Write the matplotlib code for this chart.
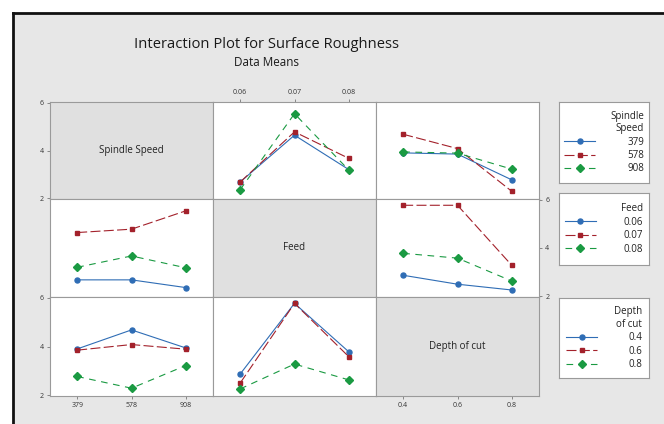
import matplotlib
matplotlib.use('Agg')
import matplotlib.pyplot as plt
from matplotlib.lines import Line2D
from matplotlib.patches import Rectangle

W, H = 664, 424

factors = ['Spindle Speed', 'Feed', 'Depth of cut']
legend_titles = ['Spindle\nSpeed', 'Feed', 'Depth\nof cut']
speed_levels = ['379', '578', '908']
feed_levels = ['0.06', '0.07', '0.08']
depth_levels = ['0.4', '0.6', '0.8']
levels = [speed_levels, feed_levels, depth_levels]

# data means, rows = level of the line factor, columns = level of the x factor
speed_by_feed = [[2.68, 4.64, 3.20],
                 [2.68, 4.78, 3.67],
                 [2.36, 5.54, 3.18]]
speed_by_depth = [[3.90, 3.85, 2.77],
                  [4.68, 4.08, 2.29],
                  [3.94, 3.89, 3.22]]
feed_by_depth = [[2.87, 2.50, 2.26],
                 [5.77, 5.77, 3.28],
                 [3.78, 3.58, 2.63]]


def transpose(m):
    return [list(r) for r in zip(*m)]


means = {
    (0, 1): speed_by_feed,
    (0, 2): speed_by_depth,
    (1, 0): transpose(speed_by_feed),
    (1, 2): feed_by_depth,
    (2, 0): transpose(speed_by_depth),
    (2, 1): transpose(feed_by_depth),
}

colors = ['#2f6db5', '#a3212b', '#1a9a42']
markers = ['o', 's', 'D']
msizes = [3.6, 3.4, 3.6]
dashes = [None, (9, 3), (6, 5)]


def px_rect(x0, y0, x1, y1):
    return [x0 / W, 1 - y1 / H, (x1 - x0) / W, (y1 - y0) / H]


fig = plt.figure(figsize=(W / 100, H / 100), dpi=100, facecolor='white')
plt.rcParams['font.family'] = ['Open Sans', 'DejaVu Sans']

# grey background with dark left/top edge
fig.add_artist(Rectangle((13 / W, 0), 1, 1 - 13 / H, transform=fig.transFigure,
                         facecolor='#e7e7e7', edgecolor='none', zorder=-10))
fig.add_artist(Line2D([13 / W, 13 / W], [0, 1 - 13 / H], transform=fig.transFigure,
                      color='#111111', lw=2))
fig.add_artist(Line2D([13 / W, 1], [1 - 13 / H, 1 - 13 / H], transform=fig.transFigure,
                      color='#111111', lw=2))

fig.text(267 / W, 1 - 45 / H, 'Interaction Plot for Surface Roughness',
         ha='center', va='center', fontsize=10.6, color='#1a1a1a')
fig.text(267 / W, 1 - 62 / H, 'Data Means', ha='center', va='center',
         fontsize=8.4, color='#1a1a1a')

xs = [50, 213, 376, 539]
ys = [102, 199, 297, 396]
handles = {}

for r in range(3):
    for c in range(3):
        ax = fig.add_axes(px_rect(xs[c], ys[r], xs[c + 1], ys[r + 1]))
        ax.set_xlim(0.5, 3.5)
        ax.set_ylim(1.97, 6.03)
        for s in ax.spines.values():
            s.set_color('#9a9a9a')
            s.set_linewidth(0.8)
        ax.tick_params(labelsize=5, length=2.5, width=0.6, color='#777777',
                       labelcolor='#333333', pad=2)
        if r == c:
            ax.set_facecolor('#e0e0e0')
            ax.text(0.5, 0.5, factors[r], transform=ax.transAxes, ha='center',
                    va='center', fontsize=7, color='#222222')
        else:
            ax.set_facecolor('white')
            for i, vals in enumerate(means[(r, c)]):
                ln, = ax.plot([1, 2, 3], vals, color=colors[i], marker=markers[i],
                              markersize=msizes[i], lw=0.8)
                if dashes[i]:
                    ln.set_dashes(dashes[i])
                handles.setdefault(r, []).append(ln)

        # x ticks only on the outer panels
        ax.set_xticks([1, 2, 3])
        if c == 1 and r == 0:
            ax.xaxis.tick_top()
            ax.set_xticklabels(levels[c])
        elif c != 1 and r == 2:
            ax.set_xticklabels(levels[c])
        else:
            ax.tick_params(axis='x', length=0, labelbottom=False, labeltop=False)

        ax.set_yticks([2, 4, 6])
        if r == 1 and c == 2:
            ax.yaxis.tick_right()
            ax.set_yticklabels(['2', '4', '6'])
        elif r != 1 and c == 0:
            ax.set_yticklabels(['2', '4', '6'])
        else:
            ax.tick_params(axis='y', length=0, labelleft=False, labelright=False)

# legend boxes on the right
boxes = [(559, 102, 649, 183), (559, 193, 649, 265), (559, 298, 649, 378)]
pads = [3.3, 2.9, 3.2]
for r in range(3):
    lax = fig.add_axes(px_rect(*boxes[r]))
    lax.set_facecolor('white')
    lax.set_xticks([])
    lax.set_yticks([])
    for s in lax.spines.values():
        s.set_color('#9a9a9a')
        s.set_linewidth(0.8)
    leg = lax.legend(handles[r], levels[r], title=legend_titles[r], loc='center',
                     frameon=False, fontsize=7, title_fontsize=7, alignment='right',
                     handlelength=3.2, handletextpad=pads[r], labelspacing=0.25,
                     borderpad=0, borderaxespad=0)
    leg.get_title().set_multialignment('right')
    leg.get_title().set_color('#222222')
    for t in leg.get_texts():
        t.set_color('#222222')

fig.savefig('out.png', dpi=100, facecolor=fig.get_facecolor())
